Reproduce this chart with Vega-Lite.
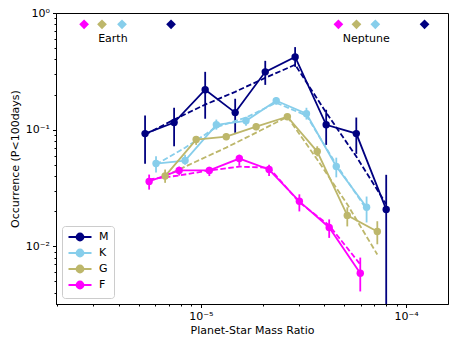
{
  "$schema": "https://vega.github.io/schema/vega-lite/v6.json",
  "width": 392,
  "height": 291,
  "autosize": {"type": "none"},
  "padding": {"left": 56, "top": 13, "right": 12, "bottom": 42},
  "config": {
    "view": {"stroke": "#000000", "strokeWidth": 1},
    "font": "DejaVu Sans",
    "axis": {
      "grid": false,
      "domainColor": "#000000",
      "tickColor": "#000000",
      "labelColor": "#000000",
      "titleColor": "#000000",
      "labelFont": "DejaVu Sans",
      "labelFontSize": 11,
      "titleFont": "DejaVu Sans",
      "titleFontSize": 11,
      "titleFontWeight": "normal",
      "labelPadding": 3
    },
    "legend": {
      "labelFont": "DejaVu Sans",
      "labelFontSize": 11,
      "labelColor": "#000000"
    }
  },
  "data": {
    "values": [
      {"s": "M", "k": "d", "x": 5.35e-6, "y": 0.0925, "lo": 0.051, "hi": 0.132},
      {"s": "M", "k": "d", "x": 7.41e-6, "y": 0.115, "lo": 0.072, "hi": 0.154},
      {"s": "M", "k": "d", "x": 1.05e-5, "y": 0.22, "lo": 0.124, "hi": 0.313},
      {"s": "M", "k": "d", "x": 1.47e-5, "y": 0.14, "lo": 0.094, "hi": 0.184},
      {"s": "M", "k": "d", "x": 2.06e-5, "y": 0.313, "lo": 0.242, "hi": 0.389},
      {"s": "M", "k": "d", "x": 2.88e-5, "y": 0.42, "lo": 0.345, "hi": 0.51},
      {"s": "M", "k": "d", "x": 4.08e-5, "y": 0.11, "lo": 0.074, "hi": 0.148},
      {"s": "M", "k": "d", "x": 5.72e-5, "y": 0.0925, "lo": 0.062, "hi": 0.127},
      {"s": "M", "k": "d", "x": 8.0e-5, "y": 0.0207, "lo": 0.001, "hi": 0.041},
      {"s": "K", "k": "d", "x": 6.05e-6, "y": 0.0512, "lo": 0.043, "hi": 0.059},
      {"s": "K", "k": "d", "x": 8.38e-6, "y": 0.0543, "lo": 0.05, "hi": 0.061},
      {"s": "K", "k": "d", "x": 1.19e-5, "y": 0.11, "lo": 0.1, "hi": 0.122},
      {"s": "K", "k": "d", "x": 1.66e-5, "y": 0.119, "lo": 0.108, "hi": 0.129},
      {"s": "K", "k": "d", "x": 2.33e-5, "y": 0.177, "lo": 0.164, "hi": 0.19},
      {"s": "K", "k": "d", "x": 3.27e-5, "y": 0.137, "lo": 0.122, "hi": 0.154},
      {"s": "K", "k": "d", "x": 4.57e-5, "y": 0.0483, "lo": 0.039, "hi": 0.0575},
      {"s": "K", "k": "d", "x": 6.42e-5, "y": 0.0216, "lo": 0.016, "hi": 0.0267},
      {"s": "G", "k": "d", "x": 6.7e-6, "y": 0.04, "lo": 0.035, "hi": 0.0455},
      {"s": "G", "k": "d", "x": 9.49e-6, "y": 0.0822, "lo": 0.074, "hi": 0.087},
      {"s": "G", "k": "d", "x": 1.33e-5, "y": 0.0871, "lo": 0.081, "hi": 0.093},
      {"s": "G", "k": "d", "x": 1.86e-5, "y": 0.106, "lo": 0.099, "hi": 0.113},
      {"s": "G", "k": "d", "x": 2.64e-5, "y": 0.129, "lo": 0.121, "hi": 0.137},
      {"s": "G", "k": "d", "x": 3.69e-5, "y": 0.0649, "lo": 0.059, "hi": 0.072},
      {"s": "G", "k": "d", "x": 5.17e-5, "y": 0.0184, "lo": 0.0148, "hi": 0.0216},
      {"s": "G", "k": "d", "x": 7.24e-5, "y": 0.0134, "lo": 0.0104, "hi": 0.0164},
      {"s": "F", "k": "d", "x": 5.6e-6, "y": 0.036, "lo": 0.0306, "hi": 0.0412},
      {"s": "F", "k": "d", "x": 7.84e-6, "y": 0.0447, "lo": 0.0404, "hi": 0.0482},
      {"s": "F", "k": "d", "x": 1.1e-5, "y": 0.0447, "lo": 0.04, "hi": 0.048},
      {"s": "F", "k": "d", "x": 1.54e-5, "y": 0.0565, "lo": 0.049, "hi": 0.061},
      {"s": "F", "k": "d", "x": 2.15e-5, "y": 0.0455, "lo": 0.04, "hi": 0.05},
      {"s": "F", "k": "d", "x": 3.02e-5, "y": 0.0243, "lo": 0.0199, "hi": 0.0279},
      {"s": "F", "k": "d", "x": 4.22e-5, "y": 0.0145, "lo": 0.0118, "hi": 0.017},
      {"s": "F", "k": "d", "x": 5.98e-5, "y": 0.00588, "lo": 0.0041, "hi": 0.008},
      {"s": "M", "k": "f", "x": 5.35e-6, "y": 0.0906},
      {"s": "M", "k": "f", "x": 7.41e-6, "y": 0.122},
      {"s": "M", "k": "f", "x": 1.05e-5, "y": 0.164},
      {"s": "M", "k": "f", "x": 1.47e-5, "y": 0.211},
      {"s": "M", "k": "f", "x": 2.06e-5, "y": 0.278},
      {"s": "M", "k": "f", "x": 2.88e-5, "y": 0.36},
      {"s": "M", "k": "f", "x": 4.08e-5, "y": 0.14},
      {"s": "M", "k": "f", "x": 5.72e-5, "y": 0.0588},
      {"s": "M", "k": "f", "x": 8.0e-5, "y": 0.023},
      {"s": "K", "k": "f", "x": 6.05e-6, "y": 0.0502},
      {"s": "K", "k": "f", "x": 8.38e-6, "y": 0.07},
      {"s": "K", "k": "f", "x": 1.19e-5, "y": 0.105},
      {"s": "K", "k": "f", "x": 1.66e-5, "y": 0.127},
      {"s": "K", "k": "f", "x": 2.33e-5, "y": 0.17},
      {"s": "K", "k": "f", "x": 3.27e-5, "y": 0.132},
      {"s": "K", "k": "f", "x": 4.57e-5, "y": 0.0502},
      {"s": "K", "k": "f", "x": 6.42e-5, "y": 0.0207},
      {"s": "G", "k": "f", "x": 6.7e-6, "y": 0.04},
      {"s": "G", "k": "f", "x": 9.49e-6, "y": 0.0533},
      {"s": "G", "k": "f", "x": 1.33e-5, "y": 0.0702},
      {"s": "G", "k": "f", "x": 1.86e-5, "y": 0.0942},
      {"s": "G", "k": "f", "x": 2.64e-5, "y": 0.129},
      {"s": "G", "k": "f", "x": 3.69e-5, "y": 0.0554},
      {"s": "G", "k": "f", "x": 5.17e-5, "y": 0.0229},
      {"s": "G", "k": "f", "x": 7.24e-5, "y": 0.0085},
      {"s": "F", "k": "f", "x": 5.6e-6, "y": 0.0374},
      {"s": "F", "k": "f", "x": 7.84e-6, "y": 0.0405},
      {"s": "F", "k": "f", "x": 1.1e-5, "y": 0.0447},
      {"s": "F", "k": "f", "x": 1.54e-5, "y": 0.0482},
      {"s": "F", "k": "f", "x": 2.15e-5, "y": 0.0472},
      {"s": "F", "k": "f", "x": 3.02e-5, "y": 0.0238},
      {"s": "F", "k": "f", "x": 4.22e-5, "y": 0.0151},
      {"s": "F", "k": "f", "x": 5.98e-5, "y": 0.007},
      {"s": "F", "k": "m", "x": 2.7e-6, "y": 0.8},
      {"s": "G", "k": "m", "x": 3.3e-6, "y": 0.8},
      {"s": "K", "k": "m", "x": 4.13e-6, "y": 0.8},
      {"s": "M", "k": "m", "x": 7.16e-6, "y": 0.8},
      {"s": "F", "k": "m", "x": 4.68e-5, "y": 0.8},
      {"s": "G", "k": "m", "x": 5.73e-5, "y": 0.8},
      {"s": "K", "k": "m", "x": 7.08e-5, "y": 0.8},
      {"s": "M", "k": "m", "x": 1.23e-4, "y": 0.8},
      {"s": "Earth", "k": "t", "x": 3.73e-6, "y": 0.6},
      {"s": "Neptune", "k": "t", "x": 6.4e-5, "y": 0.6}
    ]
  },
  "encoding": {
    "x": {
      "field": "x",
      "type": "quantitative",
      "scale": {"type": "log", "domain": [1.97e-6, 1.6e-4], "nice": false},
      "axis": {
        "title": "Planet-Star Mass Ratio",
        "values": [2e-6, 3e-6, 4e-6, 5e-6, 6e-6, 7e-6, 8e-6, 9e-6, 1e-5, 2e-5, 3e-5, 4e-5, 5e-5, 6e-5, 7e-5, 8e-5, 9e-5, 1e-4],
        "labelExpr": "abs(datum.value/1e-5-1)<0.01 ? '10⁻⁵' : (abs(datum.value/1e-4-1)<0.01 ? '10⁻⁴' : '')",
        "tickSize": {"condition": {"test": "abs(datum.value/1e-5-1)<0.01 || abs(datum.value/1e-4-1)<0.01", "value": 3.5}, "value": 2},
        "titlePadding": 3
      }
    },
    "y": {
      "field": "y",
      "type": "quantitative",
      "scale": {"type": "log", "domain": [0.0032, 1], "nice": false},
      "axis": {
        "title": "Occurrence (P<100days)",
        "values": [0.004, 0.005, 0.006, 0.007, 0.008, 0.009, 0.01, 0.02, 0.03, 0.04, 0.05, 0.06, 0.07, 0.08, 0.09, 0.1, 0.2, 0.3, 0.4, 0.5, 0.6, 0.7, 0.8, 0.9, 1],
        "labelExpr": "abs(datum.value/0.01-1)<0.01 ? '10⁻²' : (abs(datum.value/0.1-1)<0.01 ? '10⁻¹' : (abs(datum.value-1)<0.01 ? '10⁰' : ''))",
        "tickSize": {"condition": {"test": "abs(datum.value/0.01-1)<0.01 || abs(datum.value/0.1-1)<0.01 || abs(datum.value-1)<0.01", "value": 3.5}, "value": 2},
        "titlePadding": 5
      }
    },
    "color": {
      "field": "s", "type": "nominal",
      "scale": {"domain": ["M", "K", "G", "F"], "range": ["#000080", "#87ceeb", "#bdb76b", "#ff00ff"]},
      "legend": {
        "title": null,
        "orient": "bottom-left",
        "offset": 6,
        "padding": 5,
        "strokeColor": "#cccccc",
        "fillColor": "#ffffff",
        "cornerRadius": 3,
        "symbolType": "M-2.3,0L2.3,0M0.7,0A0.7,0.7,0,1,1,-0.7,0A0.7,0.7,0,1,1,0.7,0Z",
        "symbolSize": 100,
        "symbolStrokeWidth": 1.8,
        "symbolOffset": 7,
        "labelOffset": 13,
        "rowPadding": 0,
        "encode": {
          "symbols": {
            "update": {
              "fill": {"scale": "color", "field": "value"},
              "stroke": {"scale": "color", "field": "value"},
              "fillOpacity": {"value": 1},
              "opacity": {"value": 1}
            }
          }
        }
      }
    }
  },
  "layer": [
    {
      "transform": [{"filter": "datum.k == 'd'"}],
      "mark": {"type": "rule", "strokeWidth": 1.8, "clip": true},
      "encoding": {
        "y": {"field": "lo", "type": "quantitative"},
        "y2": {"field": "hi"}
      }
    },
    {
      "transform": [{"filter": "datum.k == 'f'"}],
      "mark": {"type": "line", "strokeWidth": 1.8, "strokeDash": [5.5, 2.5]},
      "encoding": {
        "order": {"field": "x", "type": "quantitative"}
      }
    },
    {
      "transform": [{"filter": "datum.k == 'd'"}],
      "mark": {"type": "line", "strokeWidth": 1.8, "point": {"filled": true, "size": 55, "opacity": 1}},
      "encoding": {
        "order": {"field": "x", "type": "quantitative"}
      }
    },
    {
      "transform": [{"filter": "datum.k == 'm'"}],
      "mark": {"type": "point", "shape": "diamond", "filled": true, "size": 95, "opacity": 1}
    },
    {
      "transform": [{"filter": "datum.k == 't'"}],
      "mark": {"type": "text", "font": "DejaVu Sans", "fontSize": 11, "align": "center", "baseline": "middle"},
      "encoding": {
        "text": {"field": "s"},
        "color": {"value": "#000000"}
      }
    }
  ]
}
